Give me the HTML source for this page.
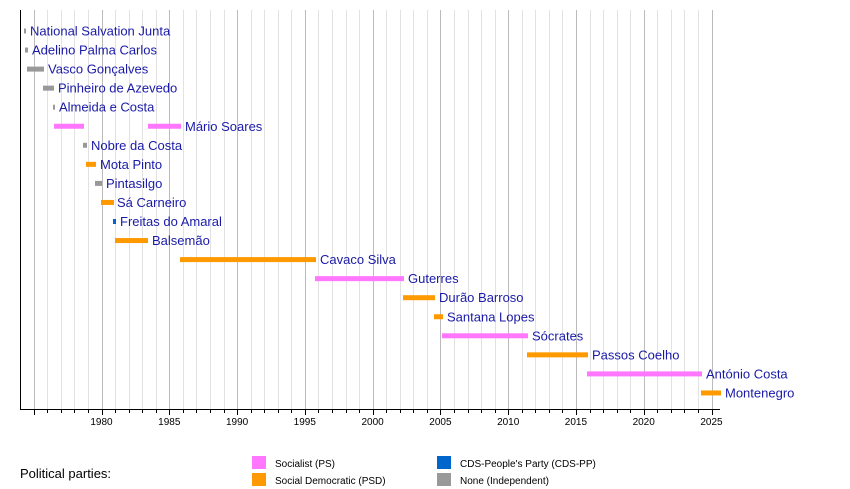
<!DOCTYPE html>
<html><head><meta charset="utf-8"><style>
html,body{margin:0;padding:0;background:#fff}
svg{display:block}
text{font-family:"Liberation Sans","DejaVu Sans",sans-serif}
</style></head><body>
<svg width="850" height="489" viewBox="0 0 850 489" xmlns="http://www.w3.org/2000/svg">
<g id="grid"></g>
<line x1="20.5" y1="10" x2="20.5" y2="409" stroke="#000" stroke-width="1"/>
<line x1="20" y1="409.5" x2="720" y2="409.5" stroke="#000" stroke-width="1"/>
<g id="ticks"></g>
<g font-size="10" fill="#000" text-anchor="middle">
<text x="101.5" y="425">1980</text><text x="169.3" y="425">1985</text><text x="237.1" y="425">1990</text><text x="304.8" y="425">1995</text><text x="372.6" y="425">2000</text><text x="440.4" y="425">2005</text><text x="508.2" y="425">2010</text><text x="575.9" y="425">2015</text><text x="643.7" y="425">2020</text><text x="711.5" y="425">2025</text>
</g>
<g id="bars"></g>
<g font-size="13" fill="#1a1aa8" id="labels"></g>
<text x="20" y="478" font-size="13" fill="#000">Political parties:</text>
<rect x="252" y="456" width="14" height="13" fill="#ff77ff"/>
<rect x="252" y="473" width="14" height="13" fill="#ff9900"/>
<rect x="437" y="456" width="14" height="13" fill="#0066cc"/>
<rect x="437" y="473" width="14" height="13" fill="#999999"/>
<g font-size="10" fill="#000">
<text x="275" y="467">Socialist (PS)</text>
<text x="275" y="484">Social Democratic (PSD)</text>
<text x="460" y="467">CDS-People's Party (CDS-PP)</text>
<text x="460" y="484">None (Independent)</text>
</g>
<script>
var ns="http://www.w3.org/2000/svg";
function X(y){return 101.5+(y-1980)*13.5556;}
function el(p,t,a,txt){var e=document.createElementNS(ns,t);for(var k in a)e.setAttribute(k,a[k]);if(txt)e.textContent=txt;document.getElementById(p).appendChild(e);}
for(var y=1975;y<=2025;y++){var x=Math.round(X(y))+0.5;
el("grid","line",{x1:x,y1:10,x2:x,y2:409,stroke:(y%5==0)?"#bbbbbb":"#e2e2e2","stroke-width":1});
el("ticks","line",{x1:x,y1:409,x2:x,y2:(y%5==0)?415:413,stroke:"#000","stroke-width":1});}
var P="#ff77ff",O="#ff9900",G="#999999",B="#0066cc";
var rows=[
["National Salvation Junta",[[24,26,G]],30],
["Adelino Palma Carlos",[[25,28,G]],32],
["Vasco Gonçalves",[[27,44,G]],48],
["Pinheiro de Azevedo",[[43,54,G]],58],
["Almeida e Costa",[[53,55,G]],59],
["Mário Soares",[[54,84,P],[148,181,P]],185],
["Nobre da Costa",[[83,87,G]],91],
["Mota Pinto",[[86,96,O]],100],
["Pintasilgo",[[95,102,G]],106],
["Sá Carneiro",[[101,114,O]],117],
["Freitas do Amaral",[[113,116,B]],120],
["Balsemão",[[115,148,O]],152],
["Cavaco Silva",[[180,316,O]],320],
["Guterres",[[315,404,P]],408],
["Durão Barroso",[[403,435,O]],439],
["Santana Lopes",[[434,443,O]],447],
["Sócrates",[[442,528,P]],532],
["Passos Coelho",[[527,588,O]],592],
["António Costa",[[587,702,P]],706],
["Montenegro",[[701,721,O]],725]];
rows.forEach(function(r,i){var cy=31+i*19.05;
r[1].forEach(function(b){el("bars","rect",{x:b[0],y:cy-2.5,width:b[1]-b[0],height:5,fill:b[2]});});
el("labels","text",{x:r[2],y:cy+4.5},r[0]);});
</script>
</svg>
</body></html>
